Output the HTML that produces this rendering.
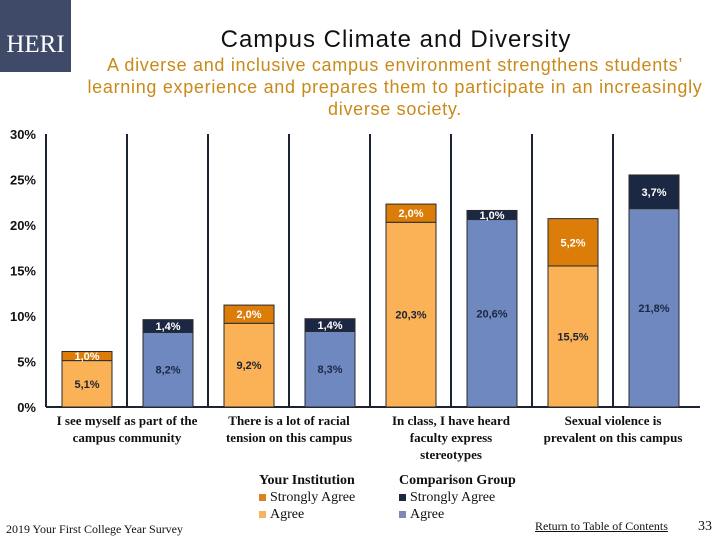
<!DOCTYPE html>
<html><head><meta charset="utf-8"><style>
body{margin:0;width:720px;height:540px;background:#fff;position:relative;overflow:hidden;font-family:"Liberation Sans",sans-serif}
.abs{position:absolute}
.serif{font-family:"Liberation Serif",serif;color:#111}
</style></head><body>
<div class="abs" style="left:0;top:0;width:71px;height:72px;background:#3e4a68;color:#fff;font-family:'Liberation Serif',serif;font-size:25px;line-height:90px;text-align:center">HERI</div>
<div class="abs" style="left:146px;top:26px;width:500px;text-align:center;font-size:24px;letter-spacing:1px;color:#111">Campus Climate and Diversity</div>
<div class="abs" style="left:60px;top:54px;width:670px;text-align:center;font-size:18px;letter-spacing:0.7px;line-height:22px;color:#c98a1a;white-space:nowrap">A diverse and inclusive campus environment strengthens students’<br>learning experience and prepares them to participate in an increasingly<br>diverse society.</div>
<svg class="abs" style="left:0;top:0" width="720" height="540" id="chart"></svg>
<div class="abs serif" style="left:259px;top:472px;font-size:14px;line-height:17px">
<b>Your Institution</b><br><span style="display:inline-block;width:7px;height:7px;background:#d9821e;margin-right:4px"></span>Strongly Agree<br><span style="display:inline-block;width:7px;height:7px;background:#f4b563;margin-right:4px"></span>Agree</div>
<div class="abs serif" style="left:399px;top:472px;font-size:14px;line-height:17px">
<b>Comparison Group</b><br><span style="display:inline-block;width:7px;height:7px;background:#1c2843;margin-right:4px"></span>Strongly Agree<br><span style="display:inline-block;width:7px;height:7px;background:#7d8db0;margin-right:4px"></span>Agree</div>
<div class="abs serif" style="left:6px;top:522px;font-size:12px">2019 Your First College Year Survey</div>
<div class="abs serif" style="left:535px;top:519px;font-size:12px;text-decoration:underline">Return to Table of Contents</div>
<div class="abs serif" style="left:698px;top:519px;font-size:14px">33</div>
<script>
const categories=["I see myself as part of the|campus community","There is a lot of racial|tension on this campus","In class, I have heard|faculty express|stereotypes","Sexual violence is|prevalent on this campus"];
const instAgree=[5.1,9.2,20.3,15.5];
const instStrong=[1.0,2.0,2.0,5.2];
const compAgree=[8.2,8.3,20.6,21.8];
const compStrong=[1.4,1.4,1.0,3.7];
const ticks=[0,5,10,15,20,25,30];
const svg=document.getElementById('chart');const NS='http://www.w3.org/2000/svg';
const y0=407,pp=9.1;const y=v=>y0-v*pp;const slot=81,x0=46;
function mk(t,a){const e=document.createElementNS(NS,t);for(const k in a)e.setAttribute(k,a[k]);svg.appendChild(e);return e;}
ticks.forEach(t=>{const e=mk('text',{x:36,y:y(t)+5,'text-anchor':'end','font-size':13,'font-weight':'bold','fill':'#111','font-family':'Liberation Sans Narrow, Liberation Sans, sans-serif'});e.textContent=t+'%';

});
for(let k=0;k<8;k++){const l=mk('line',{x1:x0+k*slot,x2:x0+k*slot,y1:y(30),y2:y0,stroke:'#1c2433','stroke-width':2});

}
const ax=mk('line',{x1:x0,x2:700,y1:y0,y2:y0,stroke:'#1c2433','stroke-width':2});


function seg(x,v0,v1,fill,txt,tc,name){const r=mk('rect',{x:x,y:y(v1),width:50,height:(v1-v0)*pp,fill:fill,stroke:'#2a2a2a','stroke-width':1});


const t=mk('text',{x:x+25,y:(y(v0)+y(v1))/2+4,'text-anchor':'middle','font-size':11,'font-weight':'bold',fill:tc,'font-family':'Liberation Sans Narrow, Liberation Sans, sans-serif'});t.textContent=txt.toFixed(1).replace('.',',')+'%';

}
categories.forEach((c,i)=>{const xi=x0+(2*i)*slot+16,xc=x0+(2*i+1)*slot+16;
seg(xi,0,instAgree[i],'#fbb257',instAgree[i],'#1c2433','bar-institution-agree');
seg(xi,instAgree[i],instAgree[i]+instStrong[i],'#dc7d0a',instStrong[i],'#fff','bar-institution-strongly-agree');
seg(xc,0,compAgree[i],'#6f88bf',compAgree[i],'#1c2843','bar-comparison-agree');
seg(xc,compAgree[i],compAgree[i]+compStrong[i],'#1c2843',compStrong[i],'#fff','bar-comparison-strongly-agree');
c.split('|').forEach((ln,j)=>{const t=mk('text',{x:x0+(2*i+1)*slot,y:425+j*17,'text-anchor':'middle','font-size':13,'font-weight':'bold',fill:'#111','font-family':'Liberation Serif, serif'});t.textContent=ln;

});
});
</script>
</body></html>
